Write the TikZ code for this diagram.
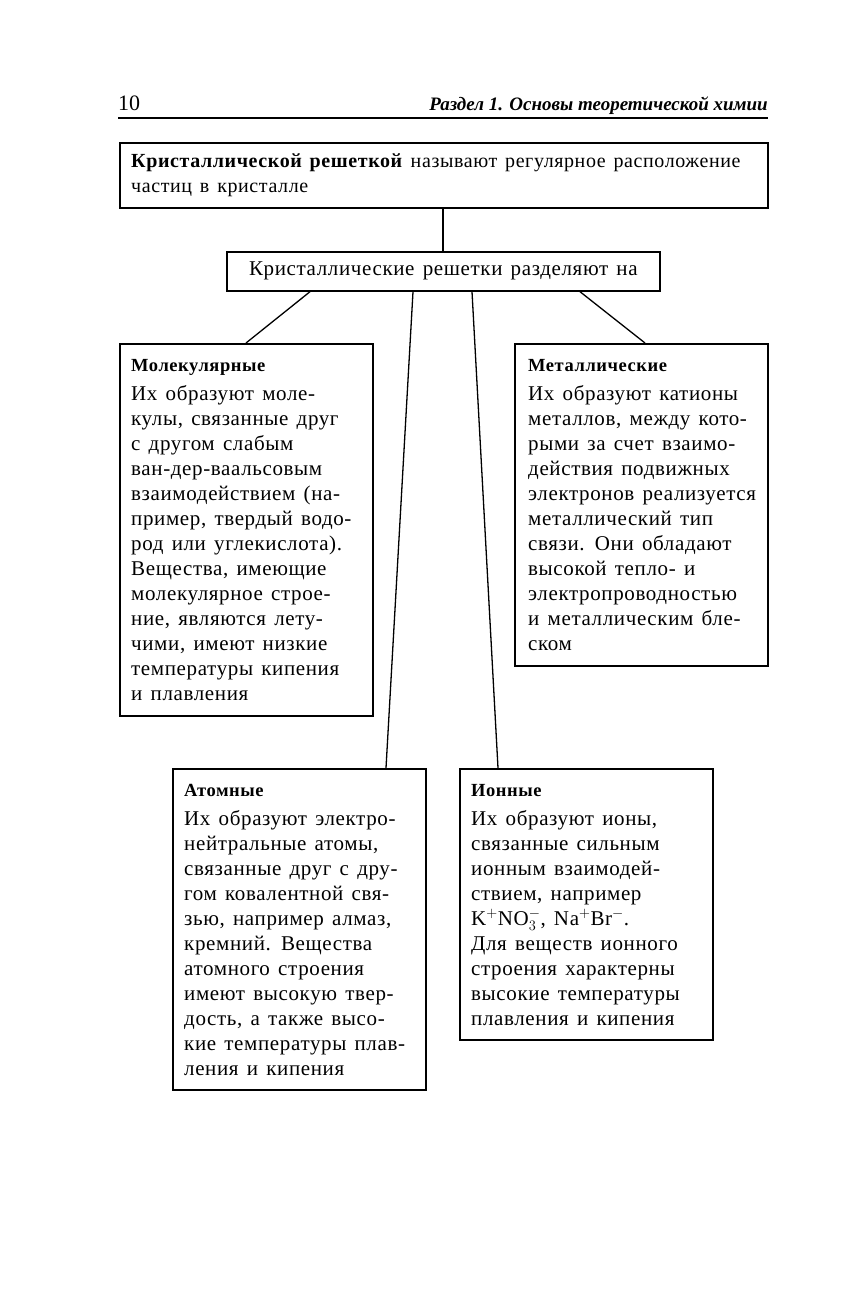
\documentclass[tikz,border=0pt]{standalone}
\usepackage{fontspec}
\setmainfont{Liberation Serif}[LetterSpace=3,WordSpace=1.4]
\newfontfamily\hdfont{Liberation Serif}
\newcommand{\fl}{\rule{0pt}{16pt}}
\begin{document}
\begin{tikzpicture}[x=1pt,y=-1pt,
  box/.style={draw, line width=1.7pt, inner sep=0pt, anchor=north west},
  txt/.style={inner sep=0pt, anchor=north west, align=left, font=\fontsize{21}{25}\selectfont},
  ttl/.style={inner sep=0pt, anchor=base west, font=\fontsize{18.5}{25}\selectfont\bfseries},
  conn/.style={line width=1.3pt}]
\useasboundingbox (0,0) rectangle (844,1311);
% header
\node[inner sep=0pt, anchor=base west, font=\hdfont\fontsize{22}{26}\selectfont] (pg) at (118,111) {10};
\node[inner sep=0pt, anchor=base east, font=\hdfont\fontsize{19}{26}\selectfont\bfseries\itshape] (hd) at (768,111) {Раздел 1. Основы теоретической химии};
\coordinate (hl) at (118,118);
\coordinate (hr) at (768,118);
\draw[line width=1.9pt] (hl) -- (hr);
% top box
\node[box, minimum width=648pt, minimum height=65pt] (top) at (119,142) {};
\node[txt, font=\fontsize{20}{25}\selectfont] (topt) at (131,151) {\fl\textbf{Кристаллической решеткой} называют регулярное расположение\\частиц в кристалле};
% middle
\node[box, minimum width=433pt, minimum height=39pt] (mid) at (226,251) {};
\node[inner sep=0pt, font=\fontsize{21}{25}\selectfont] (midt) at (mid.center) {Кристаллические решетки разделяют на};
% boxes
\node[box, minimum width=253pt, minimum height=372pt] (mol) at (119,343) {};
\node[box, minimum width=253pt, minimum height=322pt] (met) at (514,343) {};
\node[box, minimum width=253pt, minimum height=321pt] (at) at (172,768) {};
\node[box, minimum width=253pt, minimum height=271pt] (ion) at (459,768) {};
% molecular
\node[ttl] (molh) at (131,371) {Молекулярные};
\node[txt] (molt) at (131,384) {\fl Их образуют моле-\\кулы, связанные друг\\с другом слабым\\ван-дер-ваальсовым\\взаимодействием (на-\\пример, твердый водо-\\род или углекислота).\\Вещества, имеющие\\молекулярное строе-\\ние, являются лету-\\чими, имеют низкие\\температуры кипения\\и плавления};
% metallic
\node[ttl] (meth) at (528,371) {Металлические};
\node[txt] (mett) at (528,384) {\fl Их образуют катионы\\металлов, между кото-\\рыми за счет взаимо-\\действия подвижных\\электронов реализуется\\металлический тип\\связи. Они обладают\\высокой тепло- и\\электропроводностью\\и металлическим бле-\\ском};
% atomic
\node[ttl] (ath) at (184,796) {Атомные};
\node[txt] (att) at (184,809) {\fl Их образуют электро-\\нейтральные атомы,\\связанные друг с дру-\\гом ковалентной свя-\\зью, например алмаз,\\кремний. Вещества\\атомного строения\\имеют высокую твер-\\дость, а также высо-\\кие температуры плав-\\ления и кипения};
% ionic
\node[ttl] (ionh) at (471,796) {Ионные};
\node[txt] (iont) at (471,809) {\fl Их образуют ионы,\\связанные сильным\\ионным взаимодей-\\ствием, например\\K$^{+}$NO$_{3}^{-}$, Na$^{+}$Br$^{-}$.\\Для веществ ионного\\строения характерны\\высокие температуры\\плавления и кипения};
% connectors
\draw[conn] (top.south -| 443,0) -- (mid.north -| 443,0);
\draw[conn] (mid.south -| 310,0) -- (mol.north -| 246,0);
\draw[conn] (mid.south -| 413,0) -- (at.north -| 386,0);
\draw[conn] (mid.south -| 472,0) -- (ion.north -| 498,0);
\draw[conn] (mid.south -| 580,0) -- (met.north -| 645,0);
\end{tikzpicture}
\end{document}
